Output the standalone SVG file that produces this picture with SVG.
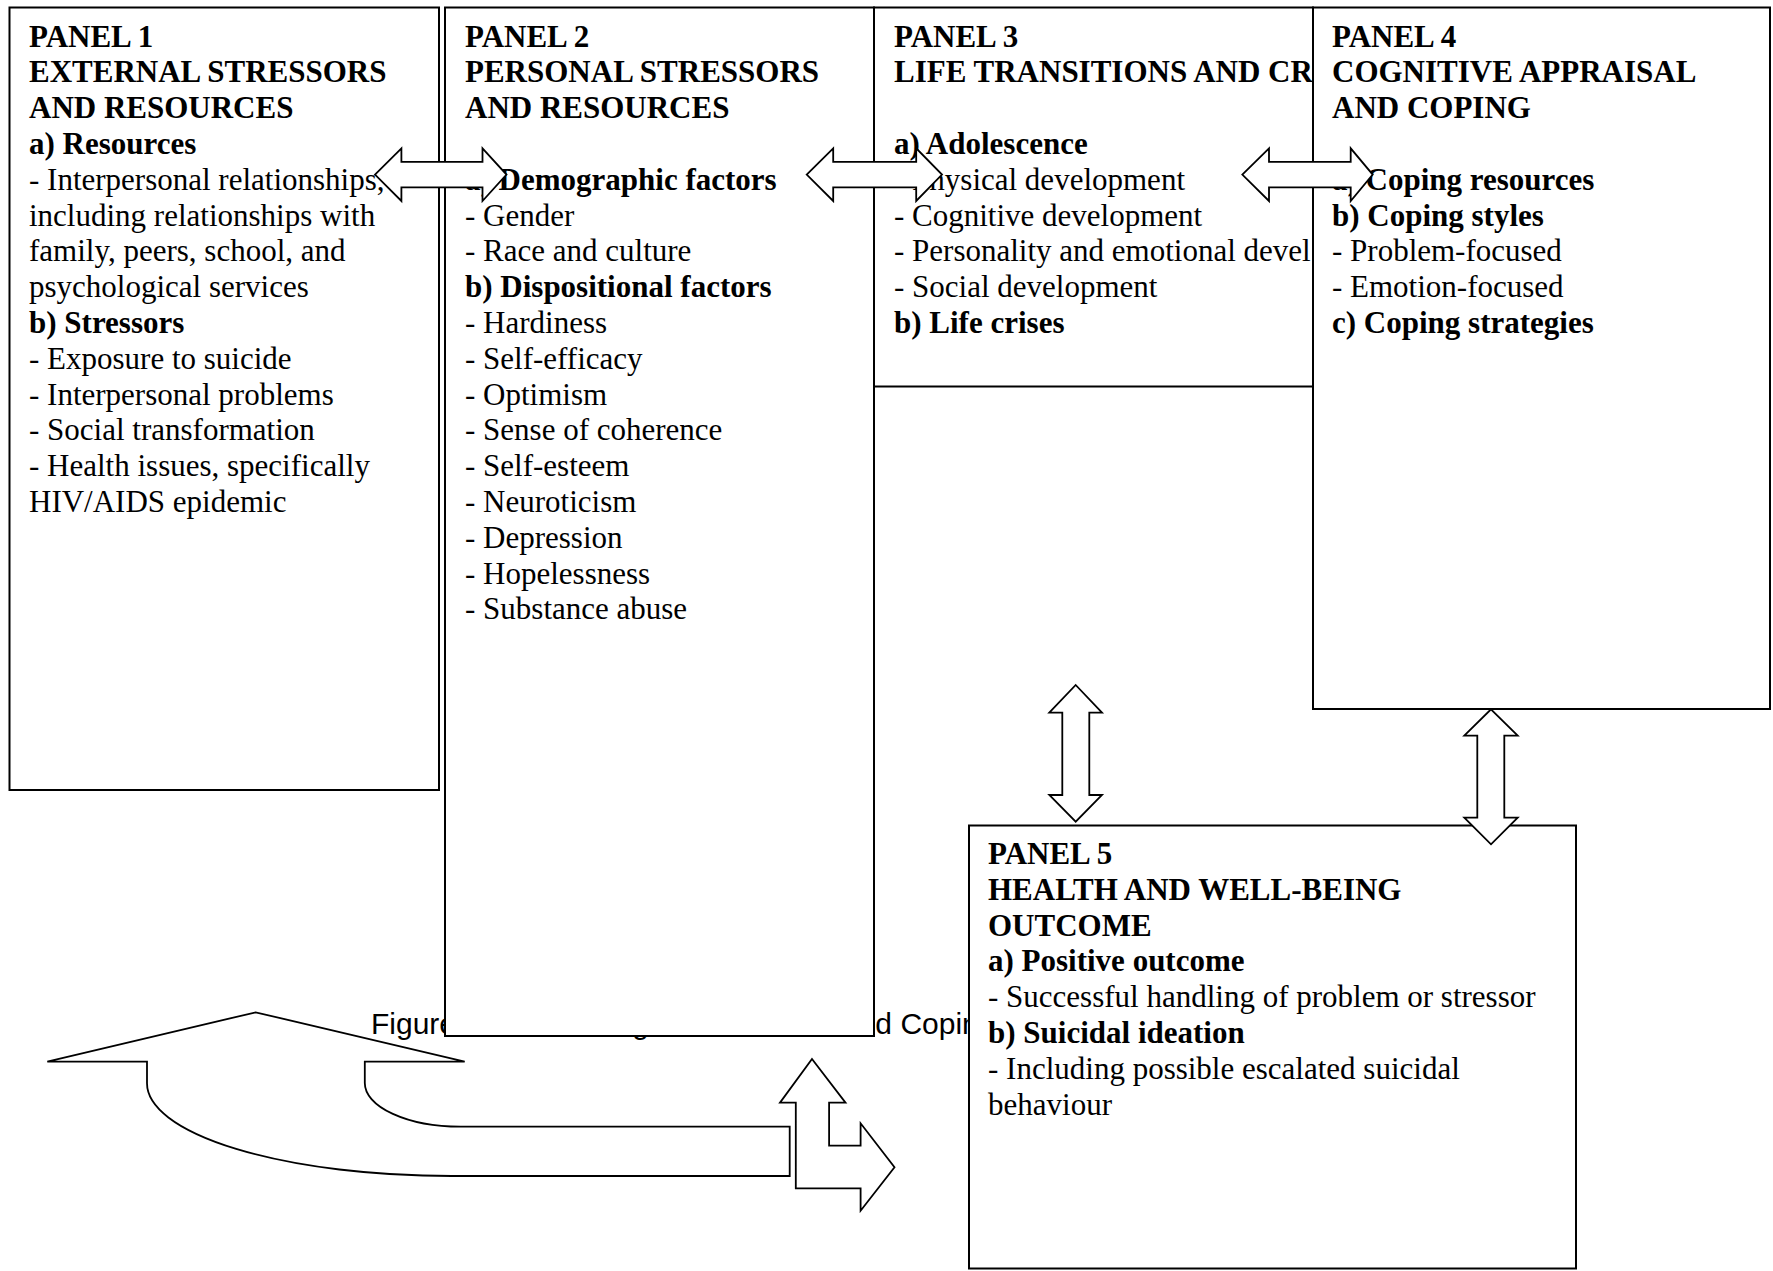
<svg xmlns="http://www.w3.org/2000/svg" width="1773" height="1271" viewBox="0 0 1773 1271">
<style>
.box{fill:#fff;stroke:#000;stroke-width:2}
.arr{fill:#fff;stroke:#000;stroke-width:1.8;stroke-linejoin:miter}
text{font-family:"Liberation Serif","Times New Roman",serif;font-size:31px;fill:#000}
.b{font-weight:bold}
.cap{font-family:"Liberation Sans",Arial,sans-serif;font-size:30px}
</style>
<defs>
<clipPath id="clip3"><rect x="873" y="6" width="440" height="382"/></clipPath>
</defs>
<rect x="0" y="0" width="1773" height="1271" fill="#fff"/>
<g id="caption">
<text class="cap" x="371" y="1034">Figure 2.1: The Integrated Stress<tspan x="842">and Coping</tspan></text>
</g>
<g id="panel1">
<rect class="box" x="9.5" y="7.5" width="429.5" height="782.5"/>
<text x="29" y="46.5" class="b">PANEL 1</text>
<text x="29" y="82.3" class="b">EXTERNAL STRESSORS</text>
<text x="29" y="118.1" class="b">AND RESOURCES</text>
<text x="29" y="153.9" class="b">a) Resources</text>
<text x="29" y="189.7">- Interpersonal relationships,</text>
<text x="29" y="225.5">including relationships with</text>
<text x="29" y="261.3">family, peers, school, and</text>
<text x="29" y="297.1">psychological services</text>
<text x="29" y="332.9" class="b">b) Stressors</text>
<text x="29" y="368.7">- Exposure to suicide</text>
<text x="29" y="404.5">- Interpersonal problems</text>
<text x="29" y="440.3">- Social transformation</text>
<text x="29" y="476.1">- Health issues, specifically</text>
<text x="29" y="511.9">HIV/AIDS epidemic</text>
</g>
<g id="panel2">
<rect class="box" x="445" y="7.5" width="429" height="1028.5"/>
<text x="465" y="46.5" class="b">PANEL 2</text>
<text x="465" y="82.3" class="b">PERSONAL STRESSORS</text>
<text x="465" y="118.1" class="b">AND RESOURCES</text>
<text x="465" y="189.7" class="b">a) Demographic factors</text>
<text x="465" y="225.5">- Gender</text>
<text x="465" y="261.3">- Race and culture</text>
<text x="465" y="297.1" class="b">b) Dispositional factors</text>
<text x="465" y="332.9">- Hardiness</text>
<text x="465" y="368.7">- Self-efficacy</text>
<text x="465" y="404.5">- Optimism</text>
<text x="465" y="440.3">- Sense of coherence</text>
<text x="465" y="476.1">- Self-esteem</text>
<text x="465" y="511.9">- Neuroticism</text>
<text x="465" y="547.7">- Depression</text>
<text x="465" y="583.5">- Hopelessness</text>
<text x="465" y="619.3">- Substance abuse</text>
</g>
<g id="panel3">
<rect class="box" x="874" y="7.5" width="439" height="379"/>
<g clip-path="url(#clip3)">
<text x="894" y="46.5" class="b">PANEL 3</text>
<text x="894" y="82.3" class="b">LIFE TRANSITIONS AND CR</text>
<text x="894" y="153.9" class="b">a) Adolescence</text>
<text x="894" y="189.7">- Physical development</text>
<text x="894" y="225.5">- Cognitive development</text>
<text x="894" y="261.3">- Personality and emotional devel</text>
<text x="894" y="297.1">- Social development</text>
<text x="894" y="332.9" class="b">b) Life crises</text>
</g>
</g>
<g id="panel4">
<rect class="box" x="1313" y="7.5" width="457" height="701.5"/>
<text x="1332" y="46.5" class="b">PANEL 4</text>
<text x="1332" y="82.3" class="b">COGNITIVE APPRAISAL</text>
<text x="1332" y="118.1" class="b">AND COPING</text>
<text x="1332" y="189.7" class="b">a) Coping resources</text>
<text x="1332" y="225.5" class="b">b) Coping styles</text>
<text x="1332" y="261.3">- Problem-focused</text>
<text x="1332" y="297.1">- Emotion-focused</text>
<text x="1332" y="332.9" class="b">c) Coping strategies</text>
</g>
<g id="panel5">
<rect class="box" x="969" y="825.5" width="607" height="443"/>
<text x="988" y="864" class="b">PANEL 5</text>
<text x="988" y="899.8" class="b">HEALTH AND WELL-BEING</text>
<text x="988" y="935.6" class="b">OUTCOME</text>
<text x="988" y="971.4" class="b">a) Positive outcome</text>
<text x="988" y="1007.2">- Successful handling of problem or stressor</text>
<text x="988" y="1043" class="b">b) Suicidal ideation</text>
<text x="988" y="1078.8">- Including possible escalated suicidal</text>
<text x="988" y="1114.6">behaviour</text>
</g>
<g id="connectors">
<path class="arr" d="M375,174.6 L401.4,148.3 L401.4,161.8 L482.5,161.8 L482.5,148.3 L506.5,174.6 L482.5,201 L482.5,187.4 L401.4,187.4 L401.4,201 Z"/>
<path class="arr" d="M806.7,174.6 L833.2,148.3 L833.2,161.8 L916.2,161.8 L916.2,148.3 L942,174.6 L916.2,201 L916.2,187.4 L833.2,187.4 L833.2,201 Z"/>
<path class="arr" d="M1242.3,174.6 L1269,148.3 L1269,161.8 L1350.7,161.8 L1350.7,148.3 L1372.7,174.6 L1350.7,201 L1350.7,187.4 L1269,187.4 L1269,201 Z"/>
<path class="arr" d="M1075.7,685 L1102,712.7 L1089.3,712.7 L1089.3,795 L1102,795 L1075.7,821.7 L1049.3,795 L1062.3,795 L1062.3,712.7 L1049.3,712.7 Z"/>
<path class="arr" d="M1491,709.3 L1517.7,735.7 L1504.3,735.7 L1504.3,817.7 L1517.7,817.7 L1491,844.3 L1464.3,817.7 L1477.3,817.7 L1477.3,735.7 L1464.3,735.7 Z"/>
<path class="arr" d="M147,1061.7 L47.3,1061.7 L255.7,1012.3 L464.7,1061.7 L364.8,1061.7 L364.8,1083 A95.8 43.7 0 0 0 460.6,1126.7 L789.7,1126.7 L789.7,1176 L451.5,1176 A304.5 92.7 0 0 1 147,1083.3 Z"/>
<path class="arr" d="M812,1059 L845.5,1102.7 L829.1,1102.7 L829.1,1145.7 L860.6,1145.7 L860.6,1123.3 L894.5,1167.3 L860.6,1210.7 L860.6,1188.3 L795.8,1188.3 L795.8,1102.7 L780,1102.7 Z"/>
</g>
</svg>
